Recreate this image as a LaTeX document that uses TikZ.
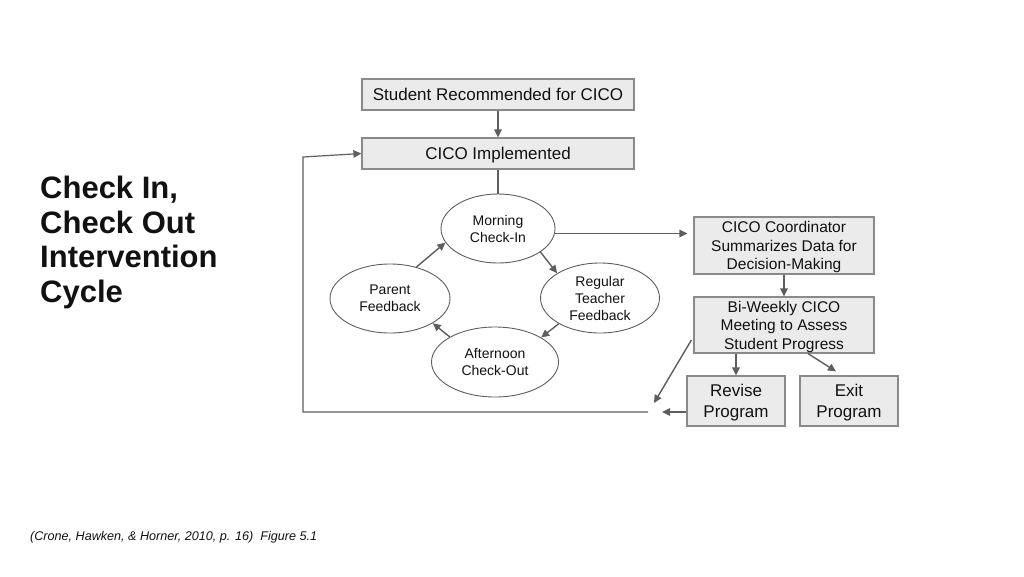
\documentclass[tikz,border=0pt]{standalone}
\usepackage{fontspec}
\setmainfont{Liberation Sans}
\usetikzlibrary{shapes.geometric,arrows.meta,calc}
\definecolor{boxfill}{HTML}{EBEBEB}
\definecolor{boxline}{HTML}{8A8A8A}
\definecolor{lnc}{HTML}{5E5E5E}
\definecolor{txt}{HTML}{111111}
\begin{document}
\begin{tikzpicture}[x=1pt,y=-1pt,
  box/.style={draw=boxline,fill=boxfill,line width=1.2pt,inner sep=0pt,align=center,text=txt,text depth=0pt},
  oval/.style={draw=lnc,ellipse,line width=0.9pt,inner sep=0pt,align=center,text=txt,text depth=0pt,font=\fontsize{14}{17}\selectfont},
  arr/.style={draw=lnc,line width=1.4pt,-{Triangle[length=8pt,width=7.5pt]}},
  ln/.style={draw=lnc,line width=1.4pt}]
\useasboundingbox (0,0) rectangle (1024,576);
% title
\node[anchor=west,align=left,inner sep=0pt,font=\fontsize{31}{34.5}\selectfont\bfseries,text=txt] (title) at (40,242.5)
  {Check In,\\Check Out\\Intervention\\Cycle};
% citation
\node[anchor=west,inner sep=0pt,font=\fontsize{12.6}{14}\selectfont\itshape,text=txt] (cite) at (30,537)
  {(Crone, Hawken, \& Horner, 2010, p. 16)\ \ Figure 5.1};
% top boxes
\node[box,minimum width=272,minimum height=31,font=\fontsize{17}{20}\selectfont] (student) at (498,94.5) {Student Recommended for CICO};
\node[box,minimum width=272,minimum height=31,font=\fontsize{17}{20}\selectfont] (impl) at (498,153.5) {CICO Implemented};
% ellipses
\node[oval,minimum width=114,minimum height=69] (morning) at (498,228.5) {Morning\\Check-In};
\node[oval,minimum width=119,minimum height=70] (regular) at (600,298) {Regular\\Teacher\\Feedback};
\node[oval,minimum width=120,minimum height=69] (parent) at (390,298.5) {Parent\\Feedback};
\node[oval,minimum width=127,minimum height=70] (after) at (495,362) {Afternoon\\Check-Out};
% right boxes
\node[box,minimum width=180,minimum height=57,font=\fontsize{15.5}{18.5}\selectfont] (coord) at (784,245.5) {CICO Coordinator\\Summarizes Data for\\Decision-Making};
\node[box,minimum width=180,minimum height=56,font=\fontsize{15.5}{18.5}\selectfont] (biw) at (784,325) {Bi-Weekly CICO\\Meeting to Assess\\Student Progress};
\node[box,minimum width=98,minimum height=50,font=\fontsize{17}{20.5}\selectfont] (revise) at (736,401) {Revise\\Program};
\node[box,minimum width=98,minimum height=50,font=\fontsize{17}{20.5}\selectfont] (exit) at (849,401) {Exit\\Program};
% connectors
\draw[arr] (student.south) -- (impl.north);
\draw[ln] (impl.south) -- (morning.north);
\draw[arr] (morning.-29) -- (regular.150);
\draw[arr] (regular.-148) -- (after.28);
\draw[arr] (after.151) -- (parent.-30);
\draw[arr] (parent.50) -- (morning.-165);
\draw[arr,shorten >=6pt] (morning.-5) -- (coord.west |- morning.-5);
\draw[arr] (coord.south) -- (biw.north);
\draw[arr] (biw.south -| revise.north) -- (revise.north);
\coordinate (exs) at ($(biw.south)+(24,0)$);
\coordinate (exe) at ($(exit.north)+(-13,-4)$);
\draw[arr] (exs) -- (exe);
\coordinate (bs) at ($(biw.west)+(-2,15)$);
\coordinate (be) at (654,403);
\draw[arr] (bs) -- (be);
\coordinate (rs) at ($(revise.west)+(0,11)$);
\coordinate (re) at (662,412);
\draw[arr] (rs) -- (re);
\coordinate (l0) at (648,412);
\coordinate (l1) at (303,412);
\coordinate (l2) at (303,157);
\draw[arr,line width=1.2pt] (l0) -- (l1) -- (l2) -- (impl.west);
\end{tikzpicture}
\end{document}
